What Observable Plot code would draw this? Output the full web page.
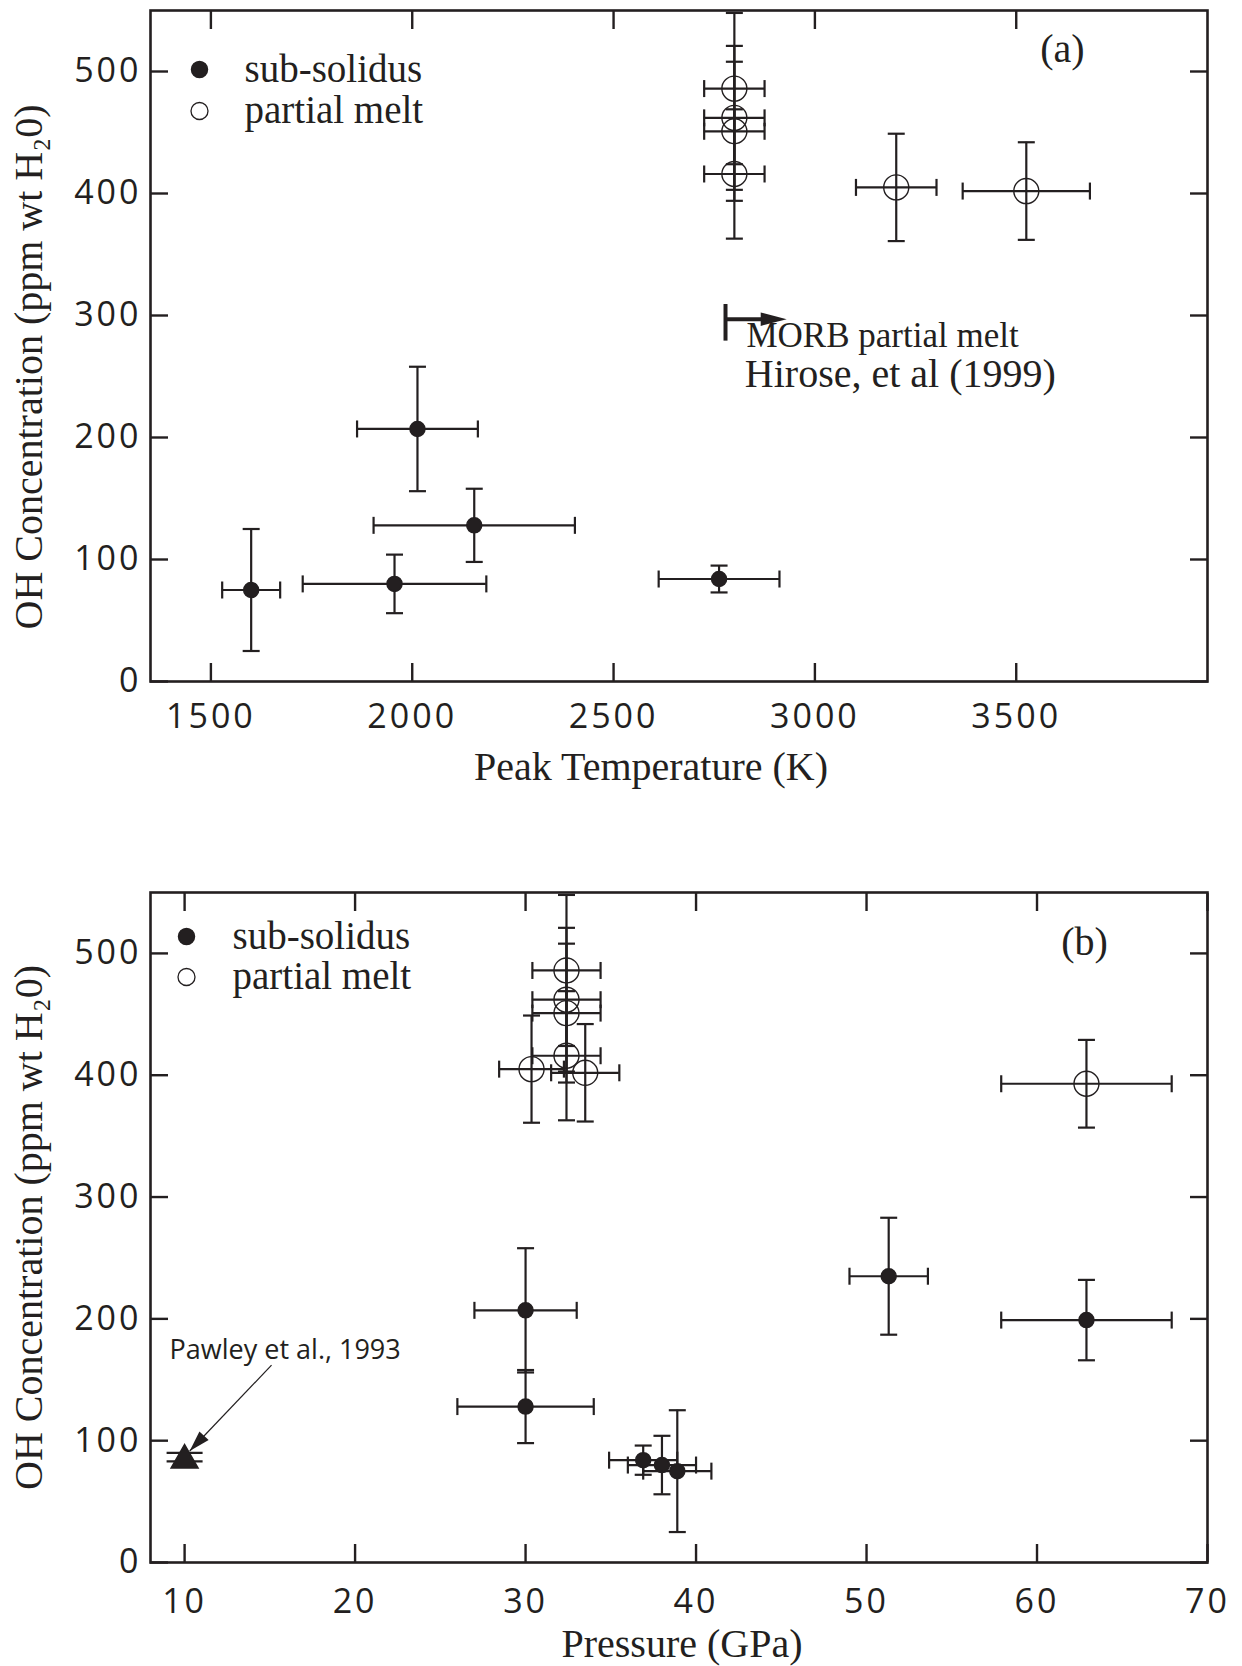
<!DOCTYPE html>
<html><head><meta charset="utf-8">
<script src="https://cdn.jsdelivr.net/npm/d3@7"></script>
<script src="https://cdn.jsdelivr.net/npm/@observablehq/plot@0.6"></script>
<style>
body{margin:0;background:#fff;}
#chart{width:1242px;}
#chart svg{display:block;}
#chart g[aria-label$="tick label"] text{letter-spacing:3px;}
</style></head><body><div id="chart"></div>
<script>
// ---------- Panel (a): peak temperature (K) vs OH concentration ----------
const aSubT      = [1600, 1956, 2013, 2154, 2762];
const aSubTerr   = [72, 228, 150, 250, 150];
const aSubOH     = [75, 80, 207, 128, 84];
const aSubOHerr  = [50, 24, 51, 30, 11];

const aMeltT     = [2800, 2800, 2800, 2800, 3202, 3525];
const aMeltTerr  = [75, 75, 75, 75, 100, 158];
const aMeltOH    = [486, 462, 451, 416, 405, 402];
const aMeltOHerr = [62, 59, 57, 53, 44, 40];

const aXTicks = [1500, 2000, 2500, 3000, 3500];
const yTicks  = [0, 100, 200, 300, 400, 500];

// MORB annotation (Hirose et al. 1999)
const morbT      = [2778, 2930];   // bar position, arrow tip
const morbBarOH  = [279, 309];
const morbArrowOH = [297];
const morbText   = ["MORB partial melt", "Hirose, et al (1999)"];
const morbTextT  = [2830, 2826];
const morbTextOH = [274.5, 241];

// ---------- Panel (b): pressure (GPa) vs OH concentration ----------
const bSubP      = [30, 30, 36.9, 38.0, 38.9, 51.3, 62.9];
const bSubPerr   = [3, 4, 2, 2, 2, 2.3, 5];
const bSubOH     = [207, 128, 84, 80, 75, 235, 199];
const bSubOHerr  = [51, 30, 12, 24, 50, 48, 33];

const bMeltP     = [32.4, 32.4, 32.4, 32.4, 30.35, 33.5, 62.9];
const bMeltPerr  = [2, 2, 2, 2, 1.9, 2, 5];
const bMeltOH    = [486, 462, 451, 416, 405, 402, 393];
const bMeltOHerr = [62, 59, 57, 53, 44, 40, 36];

const bXTicks = [10, 20, 30, 40, 50, 60, 70];

// Pawley et al., 1993
const pawleyP = [10];
const pawleyOH = [84];
const pawleyLines = [83, 90];
const pawleyText = ["Pawley et al., 1993"];
const pawleyTextP = [9.12];
const pawleyTextOH = [167];
const pawleyArrowP = [15.1, 10.3];
const pawleyArrowOH = [162, 91.5];

// ---------- helpers ----------
const INK = "#231f20";
const SERIF = "Liberation Serif, Times New Roman, serif";
const SANS = "Open Sans, sans-serif";

const rows = (xs, xe, ys, ye) => xs.map((x, i) => ({x, xe: xe[i], y: ys[i], ye: ye[i]}));

const capH = {draw(ctx, size) {const h = Math.sqrt(size / Math.PI); ctx.moveTo(-h, 0); ctx.lineTo(h, 0);}};
const capV = {draw(ctx, size) {const h = Math.sqrt(size / Math.PI); ctx.moveTo(0, -h); ctx.lineTo(0, h);}};
const headSym = (w) => ({draw(ctx, size) {const s = Math.sqrt(size / Math.PI); ctx.moveTo(0, 0); ctx.lineTo(-s * w, s); ctx.lineTo(s * w, s); ctx.closePath();}});

const SW = 2.2, CAP = 8.5;
function errorMarks(data) {
  const st = {stroke: INK, strokeWidth: SW, fill: "none"};
  return [
    Plot.ruleY(data, {y: "y", x1: d => d.x - d.xe, x2: d => d.x + d.xe, stroke: INK, strokeWidth: SW}),
    Plot.ruleX(data, {x: "x", y1: d => d.y - d.ye, y2: d => d.y + d.ye, stroke: INK, strokeWidth: SW}),
    Plot.dot(data, {x: d => d.x - d.xe, y: "y", symbol: capV, r: CAP, ...st}),
    Plot.dot(data, {x: d => d.x + d.xe, y: "y", symbol: capV, r: CAP, ...st}),
    Plot.dot(data, {x: "x", y: d => d.y - d.ye, symbol: capH, r: CAP, ...st}),
    Plot.dot(data, {x: "x", y: d => d.y + d.ye, symbol: capH, r: CAP, ...st})
  ];
}
function axes(xTicks, xPad) {
  const fmt = d => String(d);
  return [
    Plot.axisX({anchor: "bottom", ticks: xTicks, tickSize: 0, tickPadding: xPad, tickFormat: fmt, label: null, fontSize: 34, fontFamily: SANS, fill: INK}),
    Plot.axisY({anchor: "left", ticks: yTicks, tickSize: 0, tickPadding: 9, tickFormat: fmt, label: null, fontSize: 34, fontFamily: SANS, fill: INK}),
    Plot.axisX({anchor: "bottom", ticks: xTicks, tickSize: -18, tickFormat: () => "", label: null, stroke: INK, strokeWidth: 2.4}),
    Plot.axisX({anchor: "top", ticks: xTicks, tickSize: -18, tickFormat: () => "", label: null, stroke: INK, strokeWidth: 2.4}),
    Plot.axisY({anchor: "left", ticks: yTicks, tickSize: -18, tickFormat: () => "", label: null, stroke: INK, strokeWidth: 2.4}),
    Plot.axisY({anchor: "right", ticks: yTicks, tickSize: -18, tickFormat: () => "", label: null, stroke: INK, strokeWidth: 2.4}),
    Plot.frame({stroke: INK, strokeWidth: 2.6})
  ];
}
function legend(dx, dy, gap, tdx) {
  return [
    Plot.dot([0], {frameAnchor: "top-left", dx, dy, r: 8, fill: INK, stroke: INK}),
    Plot.dot([0], {frameAnchor: "top-left", dx, dy: dy + gap, r: 8.5, fill: "none", stroke: INK, strokeWidth: 1.3}),
    Plot.text(["sub-solidus"], {frameAnchor: "top-left", dx: tdx, dy: dy, text: d => d, textAnchor: "start", lineAnchor: "middle", fontFamily: SERIF, fontSize: 39, fill: INK}),
    Plot.text(["partial melt"], {frameAnchor: "top-left", dx: tdx, dy: dy + gap, text: d => d, textAnchor: "start", lineAnchor: "middle", fontFamily: SERIF, fontSize: 39, fill: INK})
  ];
}
function yLabel(dy) {
  return Plot.text(["OH Concentration (ppm wt H\u20820)"], {frameAnchor: "left", rotate: -90, dx: -121, dy, text: d => d, textAnchor: "middle", lineAnchor: "middle", fontFamily: SERIF, fontSize: 40, fill: INK});
}

// ---------- Panel (a) ----------
const aSub = rows(aSubT, aSubTerr, aSubOH, aSubOHerr);
const aMelt = rows(aMeltT, aMeltTerr, aMeltOH, aMeltOHerr);

const plotA = Plot.plot({
  width: 1242, height: 800,
  marginLeft: 150, marginRight: 35, marginTop: 10, marginBottom: 119,
  x: {domain: [1350, 3975]},
  y: {domain: [0, 550]},
  style: {background: "#fff", color: INK},
  marks: [
    ...axes(aXTicks, 22),
    ...errorMarks(aMelt),
    ...errorMarks(aSub),
    Plot.dot(aMelt, {x: "x", y: "y", r: 12.5, fill: "none", stroke: INK, strokeWidth: 1.4}),
    Plot.dot(aSub, {x: "x", y: "y", r: 7.5, fill: INK, stroke: INK}),
    // MORB annotation
    Plot.ruleX([morbT[0]], {x: d => d, y1: morbBarOH[0], y2: morbBarOH[1], stroke: INK, strokeWidth: 4}),
    Plot.ruleY(morbArrowOH, {y: d => d, x1: morbT[0], x2: morbT[1] - 40, stroke: INK, strokeWidth: 4}),
    Plot.dot(morbArrowOH, {x: morbT[1], y: d => d, symbol: headSym(0.26), r: 26, rotate: 90, fill: INK, stroke: "none"}),
    Plot.text([0], {x: morbTextT[0], y: morbTextOH[0], text: () => morbText[0], textAnchor: "start", lineAnchor: "bottom", fontFamily: SERIF, fontSize: 35, fill: INK}),
    Plot.text([0], {x: morbTextT[1], y: morbTextOH[1], text: () => morbText[1], textAnchor: "start", lineAnchor: "bottom", fontFamily: SERIF, fontSize: 40, fill: INK}),
    ...legend(49, 59, 41.5, 94),
    Plot.text(["(a)"], {frameAnchor: "top-right", dx: -145, dy: 39, text: d => d, textAnchor: "middle", lineAnchor: "middle", fontFamily: SERIF, fontSize: 40, fill: INK}),
    yLabel(21),
    Plot.text(["Peak Temperature (K)"], {frameAnchor: "bottom", dx: -28, dy: 98, text: d => d, fontFamily: SERIF, fontSize: 40, fill: INK})
  ]
});

// ---------- Panel (b) ----------
const bSub = rows(bSubP, bSubPerr, bSubOH, bSubOHerr);
const bMelt = rows(bMeltP, bMeltPerr, bMeltOH, bMeltOHerr);

const plotB = Plot.plot({
  width: 1242, height: 866,
  marginLeft: 150, marginRight: 35, marginTop: 92, marginBottom: 104,
  x: {domain: [8, 70]},
  y: {domain: [0, 550]},
  style: {background: "#fff", color: INK},
  marks: [
    ...axes(bXTicks, 26),
    ...errorMarks(bMelt),
    ...errorMarks(bSub),
    Plot.dot(bMelt, {x: "x", y: "y", r: 12.5, fill: "none", stroke: INK, strokeWidth: 1.4}),
    Plot.dot(bSub, {x: "x", y: "y", r: 7.5, fill: INK, stroke: INK}),
    // Pawley et al. 1993
    Plot.dot(pawleyLines, {x: pawleyP[0], y: d => d, symbol: capH, r: 18, stroke: INK, strokeWidth: 2.2, fill: "none"}),
    Plot.dot(pawleyOH, {x: pawleyP[0], y: d => d, symbol: "triangle", r: 10, fill: INK, stroke: INK}),
    Plot.link([0], {x1: pawleyArrowP[0], y1: pawleyArrowOH[0], x2: pawleyArrowP[1], y2: pawleyArrowOH[1], stroke: INK, strokeWidth: 1.2}),
    Plot.dot([0], {x: pawleyArrowP[1], y: pawleyArrowOH[1], symbol: headSym(0.3), r: 21, rotate: 223, fill: INK, stroke: "none"}),
    Plot.text(pawleyText, {x: pawleyTextP[0], y: pawleyTextOH[0], text: d => d, textAnchor: "start", lineAnchor: "bottom", fontFamily: SANS, fontSize: 27, fill: INK}),
    ...legend(36, 44, 40.5, 82),
    Plot.text(["(b)"], {frameAnchor: "top-right", dx: -123, dy: 50, text: d => d, textAnchor: "middle", lineAnchor: "middle", fontFamily: SERIF, fontSize: 40, fill: INK}),
    yLabel(0),
    Plot.text(["Pressure (GPa)"], {frameAnchor: "bottom", dx: 3, dy: 94, text: d => d, fontFamily: SERIF, fontSize: 40, fill: INK})
  ]
});

document.getElementById("chart").append(plotA, plotB);
</script></body></html>
